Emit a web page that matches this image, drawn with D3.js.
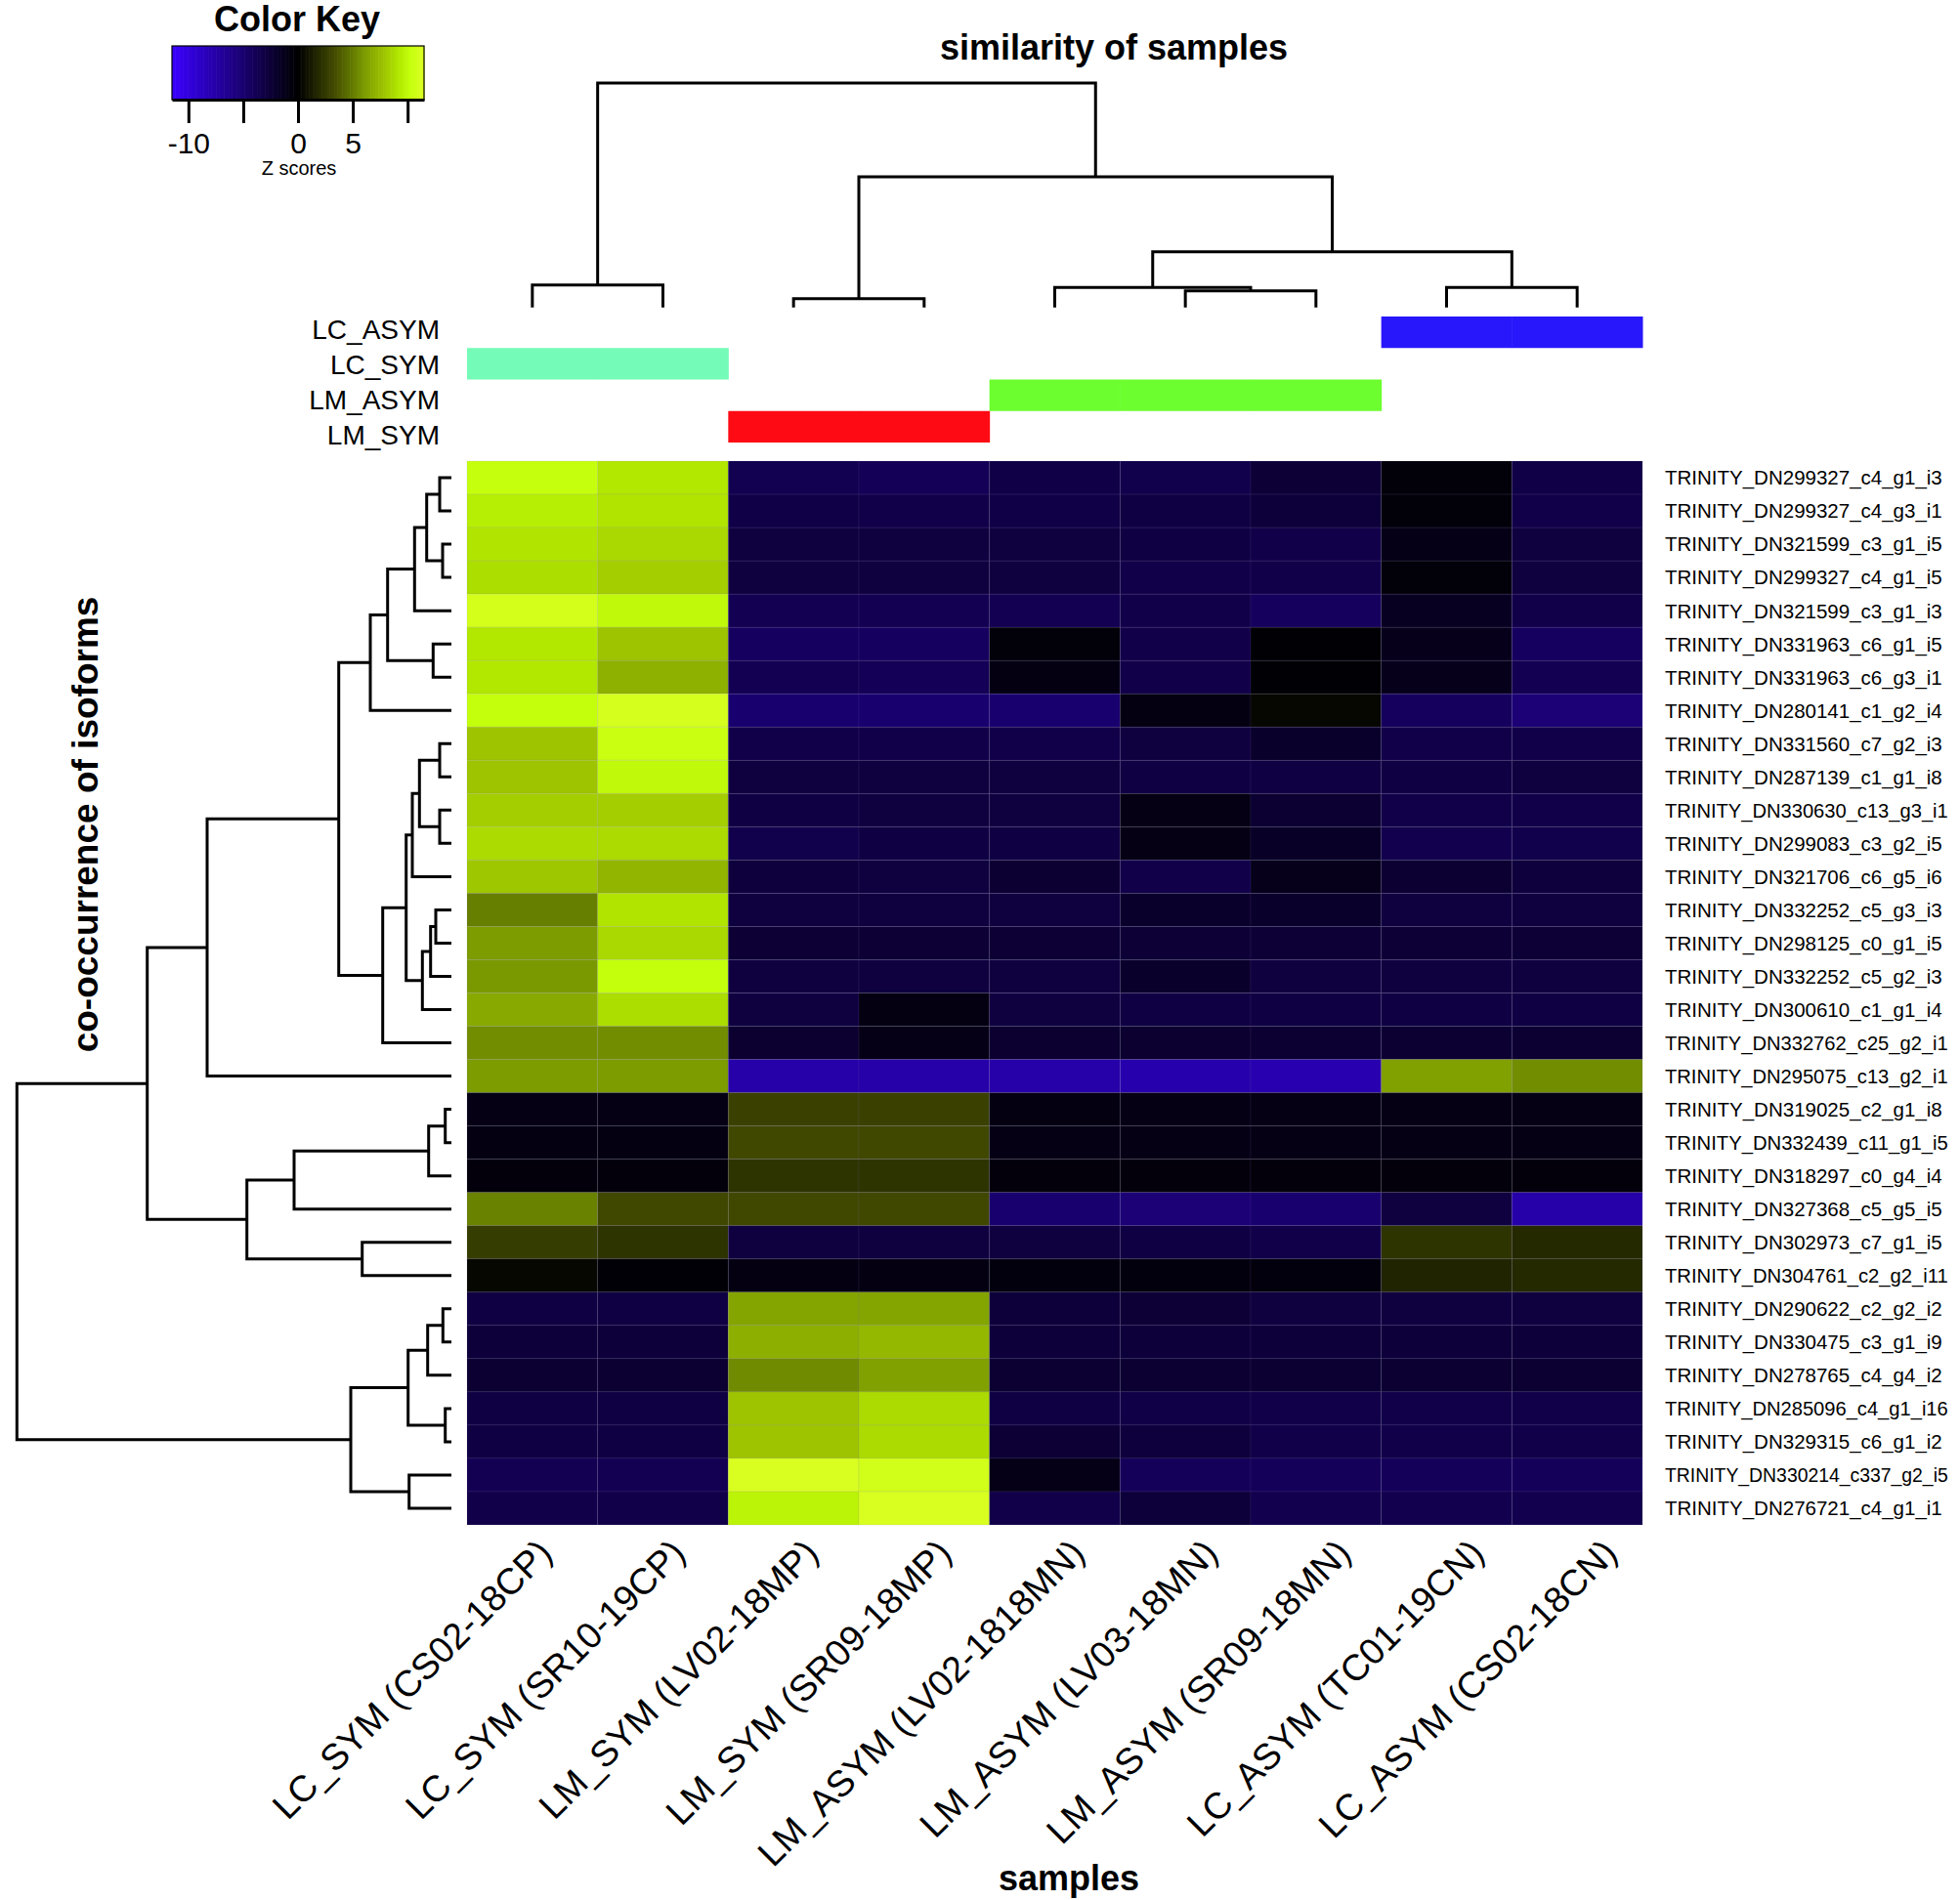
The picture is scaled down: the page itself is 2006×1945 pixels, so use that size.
<!DOCTYPE html>
<html><head><meta charset="utf-8">
<script src="https://cdn.jsdelivr.net/npm/d3@7"></script>
<style>
body{margin:0;background:#fff;}
text{font-family:"Liberation Sans", Arial, Helvetica, sans-serif;fill:#000;}
</style>
</head><body>
<svg id="chart" width="2006" height="1945"></svg>
<script>
// ---------------- data ----------------
const samples = ["LC_SYM (CS02-18CP)","LC_SYM (SR10-19CP)","LM_SYM (LV02-18MP)","LM_SYM (SR09-18MP)",
  "LM_ASYM (LV02-1818MN)","LM_ASYM (LV03-18MN)","LM_ASYM (SR09-18MN)","LC_ASYM (TC01-19CN)","LC_ASYM (CS02-18CN)"];
const sampleGroups = ["LC_SYM","LC_SYM","LM_SYM","LM_SYM","LM_ASYM","LM_ASYM","LM_ASYM","LC_ASYM","LC_ASYM"];
const groupNames = ["LC_ASYM","LC_SYM","LM_ASYM","LM_SYM"];
const groupColors = ["#2817fb","#75fbb8","#6cfe2f","#fd0a14"];
const isoforms = ["TRINITY_DN299327_c4_g1_i3","TRINITY_DN299327_c4_g3_i1","TRINITY_DN321599_c3_g1_i5","TRINITY_DN299327_c4_g1_i5",
  "TRINITY_DN321599_c3_g1_i3","TRINITY_DN331963_c6_g1_i5","TRINITY_DN331963_c6_g3_i1","TRINITY_DN280141_c1_g2_i4",
  "TRINITY_DN331560_c7_g2_i3","TRINITY_DN287139_c1_g1_i8","TRINITY_DN330630_c13_g3_i1","TRINITY_DN299083_c3_g2_i5",
  "TRINITY_DN321706_c6_g5_i6","TRINITY_DN332252_c5_g3_i3","TRINITY_DN298125_c0_g1_i5","TRINITY_DN332252_c5_g2_i3",
  "TRINITY_DN300610_c1_g1_i4","TRINITY_DN332762_c25_g2_i1","TRINITY_DN295075_c13_g2_i1","TRINITY_DN319025_c2_g1_i8",
  "TRINITY_DN332439_c11_g1_i5","TRINITY_DN318297_c0_g4_i4","TRINITY_DN327368_c5_g5_i5","TRINITY_DN302973_c7_g1_i5",
  "TRINITY_DN304761_c2_g2_i11","TRINITY_DN290622_c2_g2_i2","TRINITY_DN330475_c3_g1_i9","TRINITY_DN278765_c4_g4_i2",
  "TRINITY_DN285096_c4_g1_i16","TRINITY_DN329315_c6_g1_i2","TRINITY_DN330214_c337_g2_i5","TRINITY_DN276721_c4_g1_i1"];
// z scores, one row per isoform, columns in sample order
const zScores = [
  [10.3, 9.2,-3.6,-3.9,-3.2,-3.4,-2.5,-0.4,-3.2],
  [ 9.5, 9.1,-3.2,-3.3,-3.2,-3.0,-2.6,-0.4,-3.3],
  [ 9.1, 8.6,-2.9,-2.9,-2.9,-3.0,-3.3,-1.0,-2.9],
  [ 8.8, 8.2,-2.9,-2.9,-2.9,-3.3,-3.3,-0.4,-2.9],
  [11.0,10.0,-3.7,-3.7,-3.7,-3.3,-4.2,-1.5,-3.3],
  [ 9.2, 7.8,-4.3,-4.3,-0.4,-3.3,-0.2,-1.2,-4.3],
  [ 9.2, 7.0,-3.7,-3.9,-0.8,-3.3,-0.2,-1.2,-3.7],
  [10.2,11.1,-5.0,-5.0,-5.0,-0.8, 0.3,-4.2,-5.3],
  [ 7.8,10.5,-3.3,-3.3,-3.3,-2.9,-2.0,-3.3,-3.3],
  [ 7.8,10.0,-2.9,-2.9,-2.9,-3.0,-3.0,-3.0,-2.9],
  [ 8.2, 8.2,-3.0,-2.9,-2.9,-0.9,-2.2,-3.3,-3.3],
  [ 8.7, 8.7,-3.4,-3.0,-3.0,-0.9,-1.8,-3.5,-3.4],
  [ 7.9, 7.2,-2.7,-2.9,-2.3,-3.3,-1.2,-2.3,-2.7],
  [ 5.1, 9.1,-2.9,-2.9,-2.9,-2.0,-2.0,-2.9,-2.9],
  [ 6.1, 8.6,-2.4,-2.4,-2.4,-2.5,-2.5,-2.5,-2.5],
  [ 6.0,10.2,-2.9,-2.9,-2.9,-2.0,-2.9,-2.9,-2.9],
  [ 6.7, 8.8,-2.9,-0.8,-2.9,-3.0,-3.0,-3.0,-3.0],
  [ 5.6, 5.6,-2.1,-1.0,-2.1,-2.1,-2.3,-2.3,-2.3],
  [ 6.1, 6.1,-7.6,-7.6,-7.6,-7.8,-7.9, 6.3, 5.6],
  [-0.9,-0.9, 2.9, 2.9,-0.8,-0.9,-0.9,-0.9,-0.9],
  [-0.8,-0.8, 3.2, 3.2,-0.9,-0.9,-0.9,-0.9,-0.9],
  [-0.5,-0.5, 2.3, 2.3,-0.5,-0.5,-0.5,-0.5,-0.5],
  [ 5.2, 3.2, 3.2, 3.2,-5.0,-5.3,-5.0,-2.9,-7.6],
  [ 2.7, 2.3,-2.9,-2.9,-2.9,-3.0,-3.3, 2.3, 1.8],
  [ 0.3,-0.3,-0.8,-0.8,-0.6,-0.6,-0.6, 1.6, 1.8],
  [-3.0,-3.0, 6.5, 6.5,-2.6,-2.5,-2.9,-2.9,-2.9],
  [-2.6,-2.6, 6.9, 7.3,-2.6,-2.6,-2.6,-2.6,-2.6],
  [-2.2,-2.2, 5.5, 6.3,-2.2,-2.2,-2.2,-2.2,-2.2],
  [-3.0,-3.0, 7.8, 8.7,-3.0,-3.2,-3.3,-3.3,-3.3],
  [-3.0,-3.0, 7.8, 8.7,-2.4,-2.7,-3.3,-3.3,-3.3],
  [-3.7,-3.7,11.3,10.9,-1.0,-4.0,-4.0,-4.0,-4.0],
  [-3.3,-3.3, 9.7,11.3,-3.3,-2.6,-3.5,-3.5,-3.5]
];
// hclust-style merges: negative = leaf (1-based display order), positive = earlier merge; third = height
const colMerge = [
  [-1,-2,2.30],[-3,-4,0.90],[-6,-7,1.70],[-5,3,2.04],[-8,-9,2.04],[4,5,5.70],[2,6,13.37],[1,7,22.97]
];
const rowMerge = [
  [-1,-2,1.20],[-3,-4,0.90],[1,2,2.53],[3,-5,3.77],[-6,-7,1.87],[4,5,6.53],[6,-8,8.30],
  [-9,-10,1.20],[-11,-12,1.20],[8,9,3.27],[10,-13,4.00],[-14,-15,1.60],[12,-16,2.13],[13,-17,2.97],
  [11,14,4.63],[15,-18,7.03],[7,16,11.53],[17,-19,25.00],
  [-20,-21,0.63],[19,-22,2.33],[20,-23,16.10],[-24,-25,9.13],[21,22,20.93],[18,23,31.13],
  [-26,-27,0.87],[25,-28,2.43],[-29,-30,0.63],[26,27,4.43],[-31,-32,4.33],[28,29,10.30],[24,30,44.47]
];
const keyTicks = [-10,-5,0,5,10];
const keyTickLabels = ["-10","","0","5",""];

// ---------------- drawing ----------------
const svg = d3.select("#chart");
svg.append("rect").attr("width",2006).attr("height",1945).attr("fill","#fff");

const heat = {left:478, right:1681, top:472, bottom:1561};
const x = d3.scaleBand().domain(d3.range(samples.length)).range([heat.left, heat.right]);
const y = d3.scaleBand().domain(d3.range(isoforms.length)).range([heat.top, heat.bottom]);

const color = d3.scaleLinear()
  .domain([-11.5, 0, 3.2, 6.1, 7.8, 9.2, 10.2, 11.5])
  .range(["#3a00ff","#000000","#404800","#7c9c00","#9ec400","#b2e800","#c4ff0c","#dcff24"])
  .clamp(true);

// heatmap cells
const cells = [];
zScores.forEach((row,i)=>row.forEach((v,j)=>cells.push({i,j,v})));
svg.append("g").selectAll("rect").data(cells).join("rect")
  .attr("x",d=>x(d.j)).attr("y",d=>y(d.i))
  .attr("width",x.bandwidth()).attr("height",y.bandwidth())
  .attr("fill",d=>color(d.v))
  .attr("stroke","rgba(120,110,170,0.12)").attr("stroke-width",1);

// row labels (long ones get a smaller font so they stay inside the page)
const rowLabelX = 1704, rowLabelMax = 1994 - rowLabelX, rowFont = 20.5;
svg.append("g").selectAll("text").data(isoforms).join("text")
  .attr("x",rowLabelX).attr("y",(d,i)=>y(i)+y.bandwidth()/2).attr("dy","0.36em")
  .attr("font-size",rowFont).text(d=>d)
  .each(function(){
    const w = this.getComputedTextLength();
    if (w > rowLabelMax) d3.select(this).attr("font-size", rowFont*rowLabelMax/w);
  });

// column side colour bars
const gy = d3.scaleBand().domain(groupNames).range([324,453]);
const gcol = d3.scaleOrdinal().domain(groupNames).range(groupColors);
svg.append("g").selectAll("rect").data(sampleGroups).join("rect")
  .attr("x",(d,j)=>x(j)).attr("y",d=>gy(d))
  .attr("width",x.bandwidth()+0.5).attr("height",gy.bandwidth())
  .attr("fill",d=>gcol(d));
const gly = d3.scalePoint().domain(groupNames).range([336.5,445.2]);
svg.append("g").selectAll("text").data(groupNames).join("text")
  .attr("x",450).attr("y",d=>gly(d)).attr("dy","0.36em")
  .attr("text-anchor","end").attr("font-size",28).text(d=>d);

// dendrograms
function layoutDendro(merge){
  const pos=[], ht=[], out=[];
  merge.forEach((m,k)=>{
    const ch = m.slice(0,2).map(c=> c<0 ? {p:-c-1, h:0} : {p:pos[c-1], h:ht[c-1]});
    pos[k]=(ch[0].p+ch[1].p)/2; ht[k]=m[2];
    out.push({a:ch[0], b:ch[1], h:m[2]});
  });
  return out;
}
const colP = d3.scaleLinear().domain([0, samples.length-1])
  .range([x(0)+x.bandwidth()/2, x(samples.length-1)+x.bandwidth()/2]);
const colH = d3.scaleLinear().domain([0, d3.max(colMerge,d=>d[2])]).range([314.7, 85]);
svg.append("g").selectAll("path").data(layoutDendro(colMerge)).join("path")
  .attr("d",d=>`M${colP(d.a.p)},${colH(d.a.h)}V${colH(d.h)}H${colP(d.b.p)}V${colH(d.b.h)}`)
  .attr("fill","none").attr("stroke","#000").attr("stroke-width",3).attr("stroke-linejoin","miter");

const rowP = d3.scaleLinear().domain([0, isoforms.length-1])
  .range([y(0)+y.bandwidth()/2, y(isoforms.length-1)+y.bandwidth()/2]);
const rowH = d3.scaleLinear().domain([0, d3.max(rowMerge,d=>d[2])]).range([462, 17.3]);
svg.append("g").selectAll("path").data(layoutDendro(rowMerge)).join("path")
  .attr("d",d=>`M${rowH(d.a.h)},${rowP(d.a.p)}H${rowH(d.h)}V${rowP(d.b.p)}H${rowH(d.b.h)}`)
  .attr("fill","none").attr("stroke","#000").attr("stroke-width",3).attr("stroke-linejoin","miter");

// column labels (rotated)
const lx = d3.scalePoint().domain(d3.range(samples.length)).range([567, 1657]);
svg.append("g").selectAll("text").data(samples).join("text")
  .attr("transform",(d,i)=>`translate(${lx(i)},1592) rotate(-45)`)
  .attr("text-anchor","end").attr("font-size",37.5).text(d=>d);

// titles
svg.append("text").attr("x",1140).attr("y",61).attr("text-anchor","middle")
  .attr("font-size",36).attr("font-weight","bold").text("similarity of samples");
svg.append("text").attr("x",1094).attr("y",1935).attr("text-anchor","middle")
  .attr("font-size",36).attr("font-weight","bold").text("samples");
svg.append("text").attr("transform","translate(100,844) rotate(-90)").attr("text-anchor","middle")
  .attr("font-size",37).attr("font-weight","bold").text("co-occurrence of isoforms");

// colour key
const keyX = d3.scaleLinear().domain([-11.5,11.5]).range([176,434]);
const key = svg.append("g");
const steps = d3.range(-11.5, 11.5, 23/160);
key.selectAll("rect").data(steps).join("rect")
  .attr("x",d=>keyX(d)).attr("y",47).attr("width",keyX(23/160)-keyX(0)+0.6).attr("height",55)
  .attr("fill",d=>color(d+23/320));
key.append("rect").attr("x",176).attr("y",47).attr("width",258).attr("height",55)
  .attr("fill","none").attr("stroke","#000").attr("stroke-width",1.2);
const keyAxis = key.append("g").attr("transform","translate(0,102)")
  .call(d3.axisBottom(keyX).tickValues(keyTicks).tickFormat((d,i)=>keyTickLabels[i])
    .tickSize(24).tickSizeOuter(0).tickPadding(10));
keyAxis.select(".domain").attr("stroke-width",3);
keyAxis.selectAll(".tick line").attr("stroke-width",3);
keyAxis.selectAll("text").attr("font-size",30).attr("font-family",'"Liberation Sans", Arial, sans-serif');
key.append("text").attr("x",304).attr("y",32).attr("text-anchor","middle")
  .attr("font-size",36).attr("font-weight","bold").text("Color Key");
key.append("text").attr("x",306).attr("y",179).attr("text-anchor","middle")
  .attr("font-size",20).text("Z scores");
</script>
</body></html>
